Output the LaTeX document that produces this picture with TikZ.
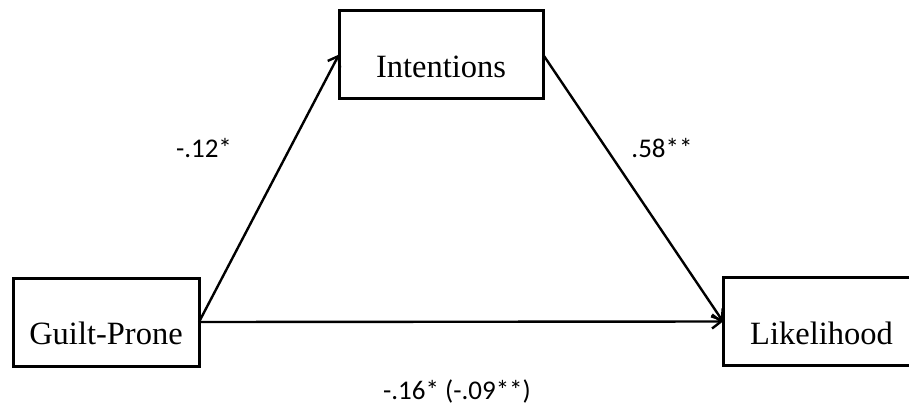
\documentclass[tikz,border=0pt]{standalone}
\usepackage{fontspec}
\setmainfont{Liberation Serif}
\newfontfamily\coeffont{Carlito}
\usetikzlibrary{arrows.meta}

\begin{document}
\begin{tikzpicture}[x=1pt, y=-1pt,
    box/.style={draw, line width=3pt, inner sep=0pt, outer sep=0pt,
                text height=45pt, text depth=0pt, minimum height=88pt,
                font=\fontsize{32.5}{38}\selectfont},
    effect/.style={line width=2.4pt,
                   -{Straight Barb[length=9pt, width=14pt, line width=2.4pt]}},
    coef/.style={font=\coeffont\fontsize{27}{32}\selectfont}]
  \useasboundingbox (0,0) rectangle (909,404);
  \clip (0,0) rectangle (909,404);
  % variables
  \node[box, minimum width=204pt] (int) at (441,54.5) {Intentions};
  \node[box, minimum width=186pt] (gp) at (106,322) {Guilt-Prone};
  \node[box, minimum width=197pt] (lik) at (821.5,321.5) {Likelihood};
  % paths
  \draw[effect] (gp.east) -- (int.west);
  \draw[effect] (int.east) -- (lik.west);
  \draw[effect] (gp.east) -- (lik.west);
  % coefficients
  \node[coef] (a) at (204,148) {-.12*};
  \node[coef] (b) at (662,148) {.58**};
  \node[coef] (c) at (457,391) {-.16* (-.09**)};
\end{tikzpicture}
\end{document}
